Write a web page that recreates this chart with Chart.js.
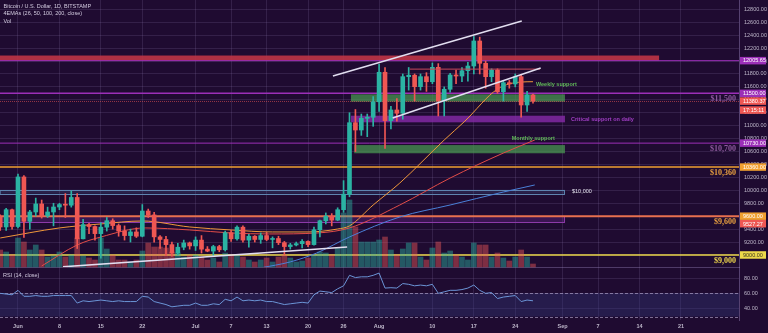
<!DOCTYPE html>
<html>
<head>
<meta charset="utf-8">
<title>BTC/USD 1D</title>
<script src="https://cdn.jsdelivr.net/npm/chart.js@4.4.0/dist/chart.umd.min.js"></script>
<style>
  html, body { margin: 0; padding: 0; background: #1f0b31; }
  #wrap { width: 768px; height: 333px; }
</style>
</head>
<body>
<div id="wrap"><canvas id="btc" width="768" height="333"></canvas></div>
<script>
// ---- daily candles, first bar is May 29 (day -3, Jun 1 = day 0)
const firstDay = -3;
const open = [9588, 9433, 9700, 9440, 10207, 9520, 9665, 9789, 9603, 9665, 9742, 9780, 9770, 9890, 9250, 9470, 9440, 9330, 9430, 9530, 9455, 9370, 9300, 9356, 9290, 9680, 9620, 9280, 9240, 9160, 9030, 9120, 9186, 9140, 9230, 9090, 9060, 9130, 9080, 9345, 9250, 9430, 9230, 9290, 9240, 9300, 9240, 9255, 9190, 9130, 9155, 9175, 9210, 9160, 9390, 9530, 9600, 9540, 9700, 9940, 11046, 10933, 11114, 11130, 11370, 11826, 11077, 11243, 11192, 11758, 11780, 11603, 11758, 11680, 11903, 11386, 11563, 11784, 11768, 11850, 11923, 12310, 11965, 11758, 11860, 11526, 11665, 11645, 11758, 11320, 11475];
const high = [9620, 9720, 9710, 10250, 10230, 9690, 9880, 9850, 9740, 9800, 9800, 9950, 9990, 9950, 9550, 9490, 9450, 9500, 9580, 9560, 9480, 9450, 9400, 9420, 9780, 9710, 9660, 9300, 9290, 9200, 9180, 9230, 9200, 9280, 9300, 9130, 9150, 9150, 9370, 9380, 9450, 9450, 9320, 9300, 9340, 9350, 9280, 9290, 9210, 9180, 9200, 9240, 9220, 9430, 9540, 9650, 9640, 9730, 10150, 11200, 11250, 11180, 11180, 11450, 11950, 11900, 11300, 11420, 11800, 11900, 11800, 11800, 11820, 11970, 11960, 11600, 11810, 11860, 11900, 11980, 12380, 12370, 12000, 11880, 11880, 11690, 11700, 11800, 11780, 11530, 11490];
const low = [9380, 9380, 9400, 9420, 9270, 9400, 9600, 9570, 9580, 9450, 9700, 9580, 9740, 9100, 9250, 9330, 9230, 8950, 9370, 9400, 9290, 9230, 9200, 9270, 9280, 9580, 9200, 9100, 8990, 8980, 9000, 9080, 9090, 9070, 9030, 9050, 8990, 9050, 9060, 9210, 9230, 9200, 9120, 9200, 9180, 9220, 9110, 9160, 9000, 9090, 9140, 9110, 9130, 9150, 9280, 9480, 9450, 9530, 9660, 9900, 10600, 10850, 10830, 10990, 11220, 10650, 10950, 11070, 11100, 11550, 11380, 11550, 11530, 11650, 11150, 11150, 11520, 11650, 11680, 11690, 11800, 11800, 11580, 11680, 11500, 11380, 11580, 11600, 11130, 11220, 11350];
const close = [9433, 9700, 9440, 10207, 9520, 9665, 9789, 9603, 9665, 9742, 9780, 9770, 9890, 9250, 9470, 9440, 9330, 9430, 9530, 9455, 9370, 9300, 9356, 9290, 9680, 9620, 9280, 9240, 9160, 9030, 9120, 9186, 9140, 9230, 9090, 9060, 9130, 9080, 9345, 9250, 9430, 9230, 9290, 9240, 9300, 9240, 9255, 9190, 9130, 9155, 9175, 9210, 9160, 9390, 9530, 9600, 9540, 9700, 9940, 11046, 10933, 11114, 11130, 11370, 11826, 11077, 11243, 11192, 11758, 11780, 11603, 11758, 11680, 11903, 11386, 11563, 11784, 11768, 11850, 11923, 12310, 11965, 11758, 11860, 11526, 11665, 11645, 11758, 11320, 11475, 11380];
// volume, thousand BTC
const volume = [8.5, 7.5, 6, 14.5, 12.5, 8.5, 11, 8.5, 5, 5.5, 7.5, 5, 6, 14.5, 5.5, 4.5, 3.5, 14.5, 9, 6, 3.5, 3.5, 2.5, 3.5, 8, 12, 10, 10, 9.5, 7.5, 7, 5, 6, 6, 5, 3.5, 4.5, 2.5, 7, 6, 6, 5, 3.5, 2.5, 3.5, 4.5, 2.5, 5, 6, 4.5, 2.5, 3, 4.5, 6, 7.5, 7, 6, 9.5, 27, 33.5, 20, 12.5, 12.5, 12.5, 13.5, 15, 8.5, 6, 9, 12, 12, 5, 3.5, 9.5, 12.5, 7, 8, 6, 5, 3.5, 12, 11, 11, 5, 7, 4.5, 3, 5, 8.5, 5, 1.5];
// RSI(14)
const rsi = [60, 59, 58, 64, 56, 56, 57, 56, 56, 57, 57, 57, 57, 47, 50, 49, 50, 51, 50, 49, 50, 49, 49, 49, 56, 55, 49, 47, 45, 42, 43, 44, 44, 47, 44, 44, 46, 45, 52, 50, 55, 50, 51, 50, 51, 49, 49, 47, 45, 46, 47, 48, 47, 58, 63, 62, 61, 66, 70, 84, 81, 82, 82, 84, 87, 67, 67.5, 67, 73, 72, 70, 71, 70, 72, 60, 62, 64, 64, 65, 67, 71, 64, 60, 61, 53, 55, 56, 57, 49, 51, 50];

// EMAs, read at a few days each
const ema26Days = [-3, 7, 14, 21, 29, 36, 43, 49, 54, 56, 60, 64.5, 72, 75.5, 81, 85, 87];
const ema26 = [9263, 9418, 9480, 9526, 9433, 9387, 9356, 9356, 9402, 9450, 9773, 10113, 10778, 11071, 11566, 11675, 11680];
const ema50Days = [4, 10, 14, 21.5, 29, 36, 42.5, 50.5, 56, 64.5, 73, 82, 87.3];
const ema50 = [8830, 9155, 9278, 9418, 9387, 9340, 9325, 9340, 9418, 9773, 10190, 10577, 10778];
const ema100Days = [41, 46, 50.5, 56, 64.5, 73, 82, 87.3];
const ema100 = [8800, 8893, 9032, 9279, 9588, 9773, 9974, 10083];

// drawn trend lines: [day, price] pairs
const channelTop = [[53.2, 11768], [85.1, 12619]];
const channelBottom = [[63.3, 11118], [88.3, 11892]];
const julyTrend = [[7.6, 8817], [55.6, 9123]];
const augustHigh = [[66.2, 11875], [88.2, 11875]];

// zones: resistance, weekly, critical, monthly, 10k box, 9.6k box
const zoneFrom = [-3.1, 56.25, 56.25, 56.8, -3.1, -3.1];
const zoneTo = [108.3, 92.4, 92.4, 92.4, 92.4, 92.4];
const zoneLow = [12005.65, 11371, 11052, 10573, 9948, 9500];
const zoneHigh = [12085, 11485, 11154, 10700, 10010, 9600];

const levelPrices = [12005.65, 11500, 10730, 10360, 9600, 9000];
const lastPrice = 11380.37;
const countdown = '17:15:11';
const tagPrices = [12005.65, 11500, 11380.37, 10730, 10360, 9600, 9527.27, 9000];
const notePrices = [11500, 10730, 10360, 9600, 9000];
const noteTexts = ['$11,500', '$10,700', '$10,360', '$9,600', '$9,000'];

const priceTicks = [9000, 9200, 9400, 9600, 9800, 10000, 10200, 10400, 10600, 10800, 11000, 11200, 11400, 11600, 11800, 12000, 12200, 12400, 12600, 12800];
const rsiTicks = [40, 60, 80];
const rsiBand = [29, 60];
const dateTickDays = [0, 7, 14, 21, 30, 36, 42, 49, 55, 61, 70, 77, 84, 92, 98, 105, 112];
const dateTickLabels = ['Jun', '8', '15', '22', 'Jul', '7', '13', '20', '26', 'Aug', '10', '17', '24', 'Sep', '7', '14', '21'];

// ---- styling
const BG = '#1f0b31';
const GRID = 'rgba(160, 140, 200, 0.16)';
const AXIS_TEXT = '#bdb6c9';
const UP = '#2bb3a3';
const DOWN = '#ef5753';
const UP_VOL = 'rgba(43, 181, 165, 0.45)';
const DOWN_VOL = 'rgba(240, 88, 90, 0.45)';
const PURPLE = '#9c2fb8';
const ORANGE = '#f0a030';
const YELLOW = '#ecd94a';
const SANS = '"Liberation Sans", Arial, sans-serif';

const zoneStyles = [
  { fill: 'rgba(190, 52, 70, 0.9)' },
  { fill: 'rgba(72, 150, 80, 0.75)' },
  { fill: 'rgba(135, 42, 170, 0.8)' },
  { fill: 'rgba(72, 150, 80, 0.75)' },
  { fill: 'rgba(70, 100, 150, 0.25)', stroke: '#5f84b0' },
  { fill: 'rgba(140, 50, 180, 0.25)', stroke: '#8c3aa8' },
];
const levelStyles = [
  { color: PURPLE, width: 1 },
  { color: PURPLE, width: 1.5 },
  { color: PURPLE, width: 1 },
  { color: ORANGE, width: 1.5 },
  { color: '#e8704f', width: 2 },
  { color: YELLOW, width: 1.5 },
];
const tagColors = [PURPLE, PURPLE, DOWN, PURPLE, ORANGE, ORANGE, DOWN, YELLOW];
const noteColors = ['#8e5a9e', '#8e5a9e', '#e8a040', '#e8a040', '#eed64c'];

const days = open.map((_, i) => firstDay + i);
const isUp = close.map((c, i) => c >= open[i]);
const xy = (list) => list.map(([x, y]) => ({ x, y }));
const pairs = (xs, ys) => xs.map((x, i) => ({ x, y: ys[i] }));

function drawText(ctx, text, x, y, font, color, align = 'left') {
  ctx.font = font;
  ctx.fillStyle = color;
  ctx.textAlign = align;
  ctx.textBaseline = 'middle';
  ctx.fillText(text, x, y);
}

const overlays = {
  id: 'overlays',
  beforeDraw(chart) {
    const { ctx, width, height } = chart;
    ctx.save();
    ctx.fillStyle = BG;
    ctx.fillRect(0, 0, width, height);
    ctx.restore();
  },
  beforeDatasetsDraw(chart) {
    const { ctx, chartArea: area, scales: { x, y, rsi: r } } = chart;
    ctx.save();

    // RSI band
    const bandTop = r.getPixelForValue(rsiBand[1]);
    const bandBottom = r.getPixelForValue(rsiBand[0]);
    ctx.fillStyle = 'rgba(52, 60, 130, 0.35)';
    ctx.fillRect(area.left, bandTop, area.width, bandBottom - bandTop);
    ctx.strokeStyle = 'rgba(200, 190, 225, 0.55)';
    ctx.lineWidth = 1;
    ctx.setLineDash([3, 2]);
    [bandTop, bandBottom].forEach((py) => {
      ctx.beginPath();
      ctx.moveTo(area.left, Math.round(py) + 0.5);
      ctx.lineTo(area.right, Math.round(py) + 0.5);
      ctx.stroke();
    });
    ctx.setLineDash([]);

    // pane separator
    ctx.strokeStyle = 'rgba(170, 150, 210, 0.35)';
    ctx.beginPath();
    ctx.moveTo(area.left, Math.round(r.top) + 0.5);
    ctx.lineTo(area.right, Math.round(r.top) + 0.5);
    ctx.stroke();

    ctx.beginPath();
    ctx.rect(area.left, y.top, area.width, y.bottom - y.top);
    ctx.clip();

    zoneFrom.forEach((from, i) => {
      const x0 = x.getPixelForValue(from);
      const x1 = x.getPixelForValue(zoneTo[i]);
      const y0 = y.getPixelForValue(zoneHigh[i]);
      const y1 = y.getPixelForValue(zoneLow[i]);
      ctx.fillStyle = zoneStyles[i].fill;
      ctx.fillRect(x0, y0, x1 - x0, y1 - y0);
      if (zoneStyles[i].stroke) {
        ctx.strokeStyle = zoneStyles[i].stroke;
        ctx.lineWidth = 1;
        ctx.strokeRect(x0 + 0.5, Math.round(y0) + 0.5, x1 - x0 - 1, Math.round(y1 - y0));
      }
    });

    levelPrices.forEach((p, i) => {
      const py = y.getPixelForValue(p);
      ctx.strokeStyle = levelStyles[i].color;
      ctx.lineWidth = levelStyles[i].width;
      ctx.beginPath();
      ctx.moveTo(area.left, py);
      ctx.lineTo(area.right, py);
      ctx.stroke();
    });

    // last price line
    const lp = y.getPixelForValue(lastPrice);
    ctx.strokeStyle = 'rgba(239, 87, 83, 0.55)';
    ctx.lineWidth = 1;
    ctx.setLineDash([1, 1]);
    ctx.beginPath();
    ctx.moveTo(area.left, Math.round(lp) + 0.5);
    ctx.lineTo(area.right, Math.round(lp) + 0.5);
    ctx.stroke();
    ctx.restore();
  },
  afterDatasetsDraw(chart) {
    const { ctx, chartArea: area, scales: { x, y, rsi: r } } = chart;
    ctx.save();
    const small = `bold 5.5px ${SANS}`;
    const serif = `bold 8px "Liberation Serif", "DejaVu Serif", serif`;

    drawText(ctx, 'Weekly support', x.getPixelForValue(87.5), y.getPixelForValue(11630), small, '#62b85a');
    drawText(ctx, 'Critical support on daily', x.getPixelForValue(zoneTo[2]) + 6,
      y.getPixelForValue((zoneLow[2] + zoneHigh[2]) / 2), small, '#a03ec4');
    drawText(ctx, 'Monthly support', x.getPixelForValue(83.4), y.getPixelForValue(10795), small, '#62b85a');
    drawText(ctx, '$10,000', x.getPixelForValue(zoneTo[4]) + 7,
      y.getPixelForValue((zoneLow[4] + zoneHigh[4]) / 2), `5.5px ${SANS}`, '#e4e2ee');

    notePrices.forEach((p, i) => {
      drawText(ctx, noteTexts[i], area.right - 3, y.getPixelForValue(p) + 6, serif, noteColors[i], 'right');
    });

    // legend lines
    const legend = `5.5px ${SANS}`;
    drawText(ctx, 'Bitcoin / U.S. Dollar, 1D, BITSTAMP', 3.5, 6, legend, '#d3cbe0');
    drawText(ctx, '4EMAs (26, 50, 100, 200, close)', 3.5, 13.5, legend, '#d3cbe0');
    drawText(ctx, 'Vol', 3.5, 21, legend, '#d3cbe0');
    drawText(ctx, 'RSI (14, close)', 3, r.top + 8, legend, '#d3cbe0');
    ctx.restore();
  },
  afterDraw(chart) {
    const { ctx, scales: { y } } = chart;
    ctx.save();
    const left = y.left + 1;
    const w = 26;
    const h = 7.5;
    let prev = -Infinity;
    const boxes = [];
    tagPrices.forEach((p, i) => {
      let cy = y.getPixelForValue(p);
      if (cy - prev < h) cy = prev + h;
      prev = cy;
      boxes.push({ cy, text: p.toFixed(2), color: tagColors[i], dark: tagColors[i] === YELLOW });
      if (p === lastPrice) {
        prev = cy + h + 1.5;
        boxes.push({ cy: prev, text: countdown, color: DOWN, dark: false });
      }
    });
    boxes.forEach((b) => {
      ctx.fillStyle = b.color;
      ctx.fillRect(left, b.cy - h / 2, w, h);
      drawText(ctx, b.text, left + 3, b.cy + 0.3, `5.5px ${SANS}`, b.dark ? '#3a3420' : '#ffffff');
    });
    ctx.restore();
  },
};

const lineDefaults = { type: 'line', pointRadius: 0, borderWidth: 1, fill: false, xAxisID: 'x', yAxisID: 'y' };

new Chart(document.getElementById('btc'), {
  type: 'bar',
  data: {
    datasets: [
      { ...lineDefaults, data: xy(channelTop), borderColor: '#e2def0', borderWidth: 1.5, order: 0 },
      { ...lineDefaults, data: xy(channelBottom), borderColor: '#e2def0', borderWidth: 1.5, order: 0 },
      { ...lineDefaults, data: xy(julyTrend), borderColor: '#e2def0', borderWidth: 1.5, order: 0 },
      { ...lineDefaults, data: xy(augustHigh), borderColor: '#c8485a', borderWidth: 1, order: 0 },
      {
        type: 'bar', xAxisID: 'x', yAxisID: 'y',
        data: days.map((d, i) => ({ x: d, y: [open[i], close[i]] })),
        backgroundColor: isUp.map((u) => (u ? UP : DOWN)),
        barThickness: 4, minBarLength: 1, grouped: false, order: 2,
      },
      {
        type: 'bar', xAxisID: 'x', yAxisID: 'y',
        data: days.map((d, i) => ({ x: d, y: [low[i], high[i]] })),
        backgroundColor: isUp.map((u) => (u ? UP : DOWN)),
        barThickness: 1, grouped: false, order: 3,
      },
      { ...lineDefaults, data: pairs(ema26Days, ema26), borderColor: '#f0973a', cubicInterpolationMode: 'monotone', order: 5 },
      { ...lineDefaults, data: pairs(ema50Days, ema50), borderColor: '#e24c48', cubicInterpolationMode: 'monotone', order: 5 },
      { ...lineDefaults, data: pairs(ema100Days, ema100), borderColor: '#4a80d8', cubicInterpolationMode: 'monotone', order: 5 },
      {
        type: 'bar', xAxisID: 'x', yAxisID: 'vol',
        data: days.map((d, i) => ({ x: d, y: volume[i] })),
        backgroundColor: isUp.map((u) => (u ? UP_VOL : DOWN_VOL)),
        barThickness: 5, grouped: false, order: 20,
      },
      {
        type: 'line', xAxisID: 'x', yAxisID: 'rsi',
        data: pairs(days, rsi), borderColor: '#6b94d6', borderWidth: 1, pointRadius: 0, fill: false, order: 1,
      },
    ],
  },
  options: {
    responsive: false,
    animation: false,
    events: [],
    layout: { padding: 0 },
    plugins: { legend: { display: false }, tooltip: { enabled: false } },
    scales: {
      x: {
        type: 'linear', min: -3.04, max: 121.8, offset: false,
        grid: { color: GRID, drawTicks: false, offset: false },
        border: { display: false },
        ticks: {
          color: AXIS_TEXT, font: { size: 5.5, weight: 'bold' }, padding: 3, maxRotation: 0, autoSkip: false,
          callback: (v, i) => dateTickLabels[i],
        },
        afterBuildTicks: (s) => { s.ticks = dateTickDays.map((v) => ({ value: v })); },
        afterFit: (s) => { s.height = 13; s.paddingLeft = 0; s.paddingRight = 0; },
      },
      y: {
        type: 'linear', position: 'right', stack: 'panes', stackWeight: 267,
        min: 8814, max: 12944,
        grid: { color: GRID, drawTicks: false },
        border: { color: 'rgba(170, 150, 210, 0.4)' },
        ticks: { color: AXIS_TEXT, font: { size: 5.5 }, padding: 5, autoSkip: false, callback: (v) => Number(v).toFixed(2) },
        afterBuildTicks: (s) => { s.ticks = priceTicks.map((v) => ({ value: v })); },
        afterFit: (s) => { s.width = 29; s.paddingTop = 0; s.paddingBottom = 0; },
      },
      rsi: {
        type: 'linear', position: 'right', stack: 'panes', stackWeight: 53,
        min: 24.4, max: 95.1,
        grid: { color: GRID, drawTicks: false },
        border: { color: 'rgba(170, 150, 210, 0.4)' },
        ticks: { color: AXIS_TEXT, font: { size: 5.5 }, padding: 5, autoSkip: false, callback: (v) => Number(v).toFixed(2) },
        afterBuildTicks: (s) => { s.ticks = rsiTicks.map((v) => ({ value: v })); },
        afterFit: (s) => { s.width = 29; s.paddingTop = 0; s.paddingBottom = 0; },
      },
      vol: { type: 'linear', position: 'right', display: false, min: -26.5, max: 133.5 },
    },
  },
  plugins: [overlays],
});
</script>
</body>
</html>
